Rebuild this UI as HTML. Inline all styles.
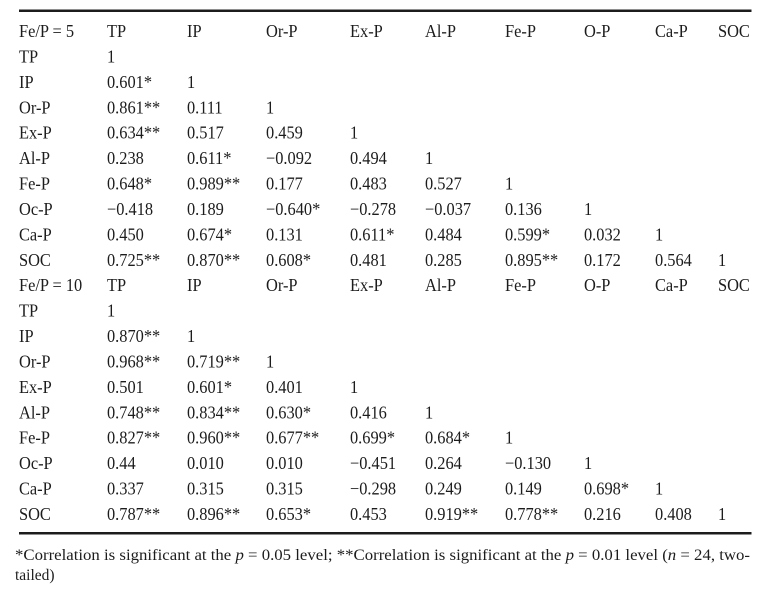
<!DOCTYPE html>
<html>
<head>
<meta charset="utf-8">
<style>
  html,body{margin:0;padding:0;background:#fff;}
  svg{display:block;}
  text{font-family:"Liberation Serif","Times New Roman",serif;fill:#1c1c1c;}
</style>
</head>
<body>
<svg width="771" height="595" viewBox="0 0 771 595" xmlns="http://www.w3.org/2000/svg">
  <rect x="0" y="0" width="771" height="595" fill="#fff"/>
  <rect x="19" y="9.5" width="732.5" height="2.5" fill="#1c1c1c"/>
  <rect x="19" y="532" width="732.5" height="2.5" fill="#1c1c1c"/>

  <g font-size="16.4">
    <!-- Section 1 -->
    <g transform="translate(0,37) scale(1,1.08)">
      <text x="19" y="0">Fe/P = 5</text><text x="107" y="0">TP</text><text x="187" y="0">IP</text><text x="266" y="0">Or-P</text><text x="350" y="0">Ex-P</text><text x="425" y="0">Al-P</text><text x="505" y="0">Fe-P</text><text x="584" y="0">O-P</text><text x="655" y="0">Ca-P</text><text x="718" y="0">SOC</text>
    </g>
    <g transform="translate(0,62.4) scale(1,1.08)">
      <text x="19" y="0">TP</text><text x="107" y="0">1</text>
    </g>
    <g transform="translate(0,87.8) scale(1,1.08)">
      <text x="19" y="0">IP</text><text x="107" y="0">0.601*</text><text x="187" y="0">1</text>
    </g>
    <g transform="translate(0,113.3) scale(1,1.08)">
      <text x="19" y="0">Or-P</text><text x="107" y="0">0.861**</text><text x="187" y="0">0.111</text><text x="266" y="0">1</text>
    </g>
    <g transform="translate(0,138.7) scale(1,1.08)">
      <text x="19" y="0">Ex-P</text><text x="107" y="0">0.634**</text><text x="187" y="0">0.517</text><text x="266" y="0">0.459</text><text x="350" y="0">1</text>
    </g>
    <g transform="translate(0,164.1) scale(1,1.08)">
      <text x="19" y="0">Al-P</text><text x="107" y="0">0.238</text><text x="187" y="0">0.611*</text><text x="266" y="0">−0.092</text><text x="350" y="0">0.494</text><text x="425" y="0">1</text>
    </g>
    <g transform="translate(0,189.5) scale(1,1.08)">
      <text x="19" y="0">Fe-P</text><text x="107" y="0">0.648*</text><text x="187" y="0">0.989**</text><text x="266" y="0">0.177</text><text x="350" y="0">0.483</text><text x="425" y="0">0.527</text><text x="505" y="0">1</text>
    </g>
    <g transform="translate(0,214.9) scale(1,1.08)">
      <text x="19" y="0">Oc-P</text><text x="107" y="0">−0.418</text><text x="187" y="0">0.189</text><text x="266" y="0">−0.640*</text><text x="350" y="0">−0.278</text><text x="425" y="0">−0.037</text><text x="505" y="0">0.136</text><text x="584" y="0">1</text>
    </g>
    <g transform="translate(0,240.4) scale(1,1.08)">
      <text x="19" y="0">Ca-P</text><text x="107" y="0">0.450</text><text x="187" y="0">0.674*</text><text x="266" y="0">0.131</text><text x="350" y="0">0.611*</text><text x="425" y="0">0.484</text><text x="505" y="0">0.599*</text><text x="584" y="0">0.032</text><text x="655" y="0">1</text>
    </g>
    <g transform="translate(0,265.8) scale(1,1.08)">
      <text x="19" y="0">SOC</text><text x="107" y="0">0.725**</text><text x="187" y="0">0.870**</text><text x="266" y="0">0.608*</text><text x="350" y="0">0.481</text><text x="425" y="0">0.285</text><text x="505" y="0">0.895**</text><text x="584" y="0">0.172</text><text x="655" y="0">0.564</text><text x="718" y="0">1</text>
    </g>

    <!-- Section 2 -->
    <g transform="translate(0,291.2) scale(1,1.08)">
      <text x="19" y="0">Fe/P = 10</text><text x="107" y="0">TP</text><text x="187" y="0">IP</text><text x="266" y="0">Or-P</text><text x="350" y="0">Ex-P</text><text x="425" y="0">Al-P</text><text x="505" y="0">Fe-P</text><text x="584" y="0">O-P</text><text x="655" y="0">Ca-P</text><text x="718" y="0">SOC</text>
    </g>
    <g transform="translate(0,316.6) scale(1,1.08)">
      <text x="19" y="0">TP</text><text x="107" y="0">1</text>
    </g>
    <g transform="translate(0,342.0) scale(1,1.08)">
      <text x="19" y="0">IP</text><text x="107" y="0">0.870**</text><text x="187" y="0">1</text>
    </g>
    <g transform="translate(0,367.5) scale(1,1.08)">
      <text x="19" y="0">Or-P</text><text x="107" y="0">0.968**</text><text x="187" y="0">0.719**</text><text x="266" y="0">1</text>
    </g>
    <g transform="translate(0,392.9) scale(1,1.08)">
      <text x="19" y="0">Ex-P</text><text x="107" y="0">0.501</text><text x="187" y="0">0.601*</text><text x="266" y="0">0.401</text><text x="350" y="0">1</text>
    </g>
    <g transform="translate(0,418.3) scale(1,1.08)">
      <text x="19" y="0">Al-P</text><text x="107" y="0">0.748**</text><text x="187" y="0">0.834**</text><text x="266" y="0">0.630*</text><text x="350" y="0">0.416</text><text x="425" y="0">1</text>
    </g>
    <g transform="translate(0,443.7) scale(1,1.08)">
      <text x="19" y="0">Fe-P</text><text x="107" y="0">0.827**</text><text x="187" y="0">0.960**</text><text x="266" y="0">0.677**</text><text x="350" y="0">0.699*</text><text x="425" y="0">0.684*</text><text x="505" y="0">1</text>
    </g>
    <g transform="translate(0,469.1) scale(1,1.08)">
      <text x="19" y="0">Oc-P</text><text x="107" y="0">0.44</text><text x="187" y="0">0.010</text><text x="266" y="0">0.010</text><text x="350" y="0">−0.451</text><text x="425" y="0">0.264</text><text x="505" y="0">−0.130</text><text x="584" y="0">1</text>
    </g>
    <g transform="translate(0,494.6) scale(1,1.08)">
      <text x="19" y="0">Ca-P</text><text x="107" y="0">0.337</text><text x="187" y="0">0.315</text><text x="266" y="0">0.315</text><text x="350" y="0">−0.298</text><text x="425" y="0">0.249</text><text x="505" y="0">0.149</text><text x="584" y="0">0.698*</text><text x="655" y="0">1</text>
    </g>
    <g transform="translate(0,520.0) scale(1,1.08)">
      <text x="19" y="0">SOC</text><text x="107" y="0">0.787**</text><text x="187" y="0">0.896**</text><text x="266" y="0">0.653*</text><text x="350" y="0">0.453</text><text x="425" y="0">0.919**</text><text x="505" y="0">0.778**</text><text x="584" y="0">0.216</text><text x="655" y="0">0.408</text><text x="718" y="0">1</text>
    </g>
  </g>

  <!-- Footnote -->
  <g font-size="15.5">
    <text x="15" y="560" textLength="735" lengthAdjust="spacingAndGlyphs">*Correlation is significant at the <tspan font-style="italic">p</tspan> = 0.05 level; **Correlation is significant at the <tspan font-style="italic">p</tspan> = 0.01 level (<tspan font-style="italic">n</tspan> = 24, two-</text>
    <text x="15" y="580">tailed)</text>
  </g>
</svg>
</body>
</html>
